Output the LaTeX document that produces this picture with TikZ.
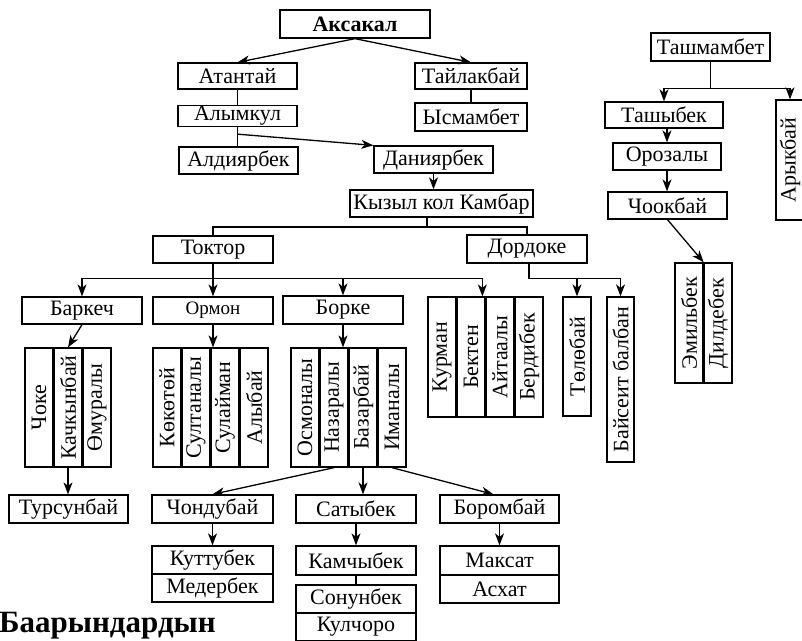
\documentclass[tikz,border=0pt]{standalone}
\usepackage{fontspec}
\setmainfont{Liberation Serif}
\usetikzlibrary{arrows.meta,calc}
\begin{document}
\begin{tikzpicture}[x=1pt,y=-1pt]
\tikzset{
 bx/.style={draw, line width=1.3pt, inner sep=0pt, font=\fontsize{22}{24}\selectfont},
 col/.style={bx, minimum width=28pt},
 arr/.style={line width=1.3pt, -{Stealth[length=12pt,width=9pt,inset=3.5pt]}},
 ln/.style={line width=1.3pt},
}
\useasboundingbox (0,0) rectangle (802,640);
% top tree
\node[bx, minimum width=150pt, minimum height=28pt, font=\fontsize{22}{24}\selectfont\bfseries] (aks) at (355,24) {Аксакал};
\node[bx, minimum width=119pt, minimum height=26pt] (atan) at (237.5,76) {Атантай};
\node[bx, minimum width=112pt, minimum height=26pt] (tail) at (471,76) {Тайлакбай};
\node[bx, minimum width=119pt, minimum height=21pt] (alym) at (237.5,116) {Алымкул};
\node[bx, minimum width=112pt, minimum height=28pt] (ysm) at (471,117) {Ысмамбет};
\node[bx, minimum width=119pt, minimum height=27pt] (ald) at (238.5,160.5) {Алдиярбек};
\node[bx, minimum width=119pt, minimum height=27pt] (dan) at (433.5,159.5) {Даниярбек};
\node[bx, minimum width=183pt, minimum height=27pt] (kyz) at (441.5,203.5) {Кызыл кол Камбар};
\node[bx, minimum width=120pt, minimum height=27pt] (tok) at (213,249.5) {Токтор};
\node[bx, minimum width=120pt, minimum height=28pt] (dor) at (527,249) {Дордоке};
\node[bx, minimum width=120pt, minimum height=27pt] (bark) at (82,310.5) {Баркеч};
\node[bx, minimum width=120pt, minimum height=27pt, font=\fontsize{19}{21}\selectfont] (orm) at (213,310.5) {Ормон};
\node[bx, minimum width=120pt, minimum height=28pt] (bork) at (343,310) {Борке};
% column groups
\node[col, minimum height=119pt] (chok) at (39,407.5) {\rotatebox{90}{Чоке}};
\node[col, minimum height=119pt] (kach) at (68,407.5) {\rotatebox{90}{Качкынбай}};
\node[col, minimum height=119pt] (omur) at (97,407.5) {\rotatebox{90}{Өмуралы}};
\node[col, minimum height=119pt] (kok) at (167,407.5) {\rotatebox{90}{Көкөтөй}};
\node[col, minimum height=119pt] (sult) at (196,407.5) {\rotatebox{90}{Султаналы}};
\node[col, minimum height=119pt] (sul) at (225,407.5) {\rotatebox{90}{Сулайман}};
\node[col, minimum height=119pt] (alyb) at (254,407.5) {\rotatebox{90}{Алыбай}};
\node[col, minimum height=119pt] (osm) at (305,407.5) {\rotatebox{90}{Осмоналы}};
\node[col, minimum height=119pt] (naz) at (334,407.5) {\rotatebox{90}{Назаралы}};
\node[col, minimum height=119pt] (baz) at (363,407.5) {\rotatebox{90}{Базарбай}};
\node[col, minimum height=119pt] (ima) at (392,407.5) {\rotatebox{90}{Иманалы}};
\node[col, minimum height=120pt] (kur) at (442,357) {\rotatebox{90}{Курман}};
\node[col, minimum height=120pt] (bek) at (471,357) {\rotatebox{90}{Бектен}};
\node[col, minimum height=120pt] (ait) at (500,357) {\rotatebox{90}{Айтаалы}};
\node[col, minimum height=120pt] (berd) at (529,357) {\rotatebox{90}{Бердибек}};
\node[col, minimum height=119pt] (tol) at (577,356.5) {\rotatebox{90}{Төлөбай}};
\node[col, minimum width=27pt, minimum height=165pt] (bai) at (620.5,379.5) {\rotatebox{90}{Байсеит балбан}};
% right tree
\node[bx, minimum width=119pt, minimum height=28pt] (tash) at (710.5,47) {Ташмамбет};
\node[bx, minimum width=118pt, minimum height=26pt] (tashy) at (664,115) {Ташыбек};
\node[col, minimum height=120pt] (aryk) at (790,160) {\rotatebox{90}{Арыкбай}};
\node[bx, minimum width=108pt, minimum height=27pt] (oroz) at (667,156.5) {Орозалы};
\node[bx, minimum width=119pt, minimum height=27pt] (chook) at (667.5,205.5) {Чоокбай};
\node[col, minimum height=120pt] (emil) at (689,323) {\rotatebox{90}{Эмильбек}};
\node[col, minimum height=120pt] (dild) at (718,323) {\rotatebox{90}{Дилдебек}};
% bottom rows
\node[bx, minimum width=119pt, minimum height=28pt] (turs) at (68.5,509) {Турсунбай};
\node[bx, minimum width=121pt, minimum height=28pt] (chon) at (212.5,509) {Чондубай};
\node[bx, minimum width=120pt, minimum height=28pt] (sat) at (356,509) {Сатыбек};
\node[bx, minimum width=119pt, minimum height=28pt] (bor) at (499.5,509) {Боромбай};
\node[bx, minimum width=121pt, minimum height=28pt] (kut) at (212.5,560) {Куттубек};
\node[bx, minimum width=121pt, minimum height=28pt] (med) at (212.5,588) {Медербек};
\node[bx, minimum width=120pt, minimum height=29pt] (kam) at (356,560.5) {Камчыбек};
\node[bx, minimum width=120pt, minimum height=28pt] (son) at (356,599) {Сонунбек};
\node[bx, minimum width=120pt, minimum height=28pt] (kul) at (356,627) {Кулчоро};
\node[bx, minimum width=119pt, minimum height=29pt] (mak) at (499.5,560.5) {Максат};
\node[bx, minimum width=119pt, minimum height=28pt] (ash) at (499.5,589) {Асхат};
\node[anchor=base west, inner sep=0pt, font=\fontsize{31}{33}\selectfont\bfseries] (title) at (-1,632) {Баарындардын};
% connectors
\draw[arr] (aks.south) -- (atan.north);
\draw[arr] (aks.south) -- (tail.north);
\draw[ln] (atan.south) -- (alym.north);
\draw[ln] (tail.south) -- (ysm.north);
\draw[ln] (alym.south) -- (alym.south |- ald.north);
\coordinate (a1) at ($(alym.south)+(0,7)$);
\draw[arr] (a1) -- (dan.north west);
\draw[arr] (dan.south) -- (dan.south |- kyz.north);
\coordinate (k1) at (427,227);
\draw[ln] (k1 |- kyz.south) -- (k1);
\draw[ln] (tok.north) |- (k1) -| (dor.north);
\coordinate (t1) at ($(tok.south)+(0,15)$);
\draw[ln] (tok.south) -- (t1);
\draw[arr] (t1) -| (bark.north);
\draw[arr] (t1) -- (orm.north);
\draw[arr] (t1) -| (bork.north);
\draw[arr] (t1) -| ([xshift=-3pt]ait.north west);
\draw[arr] (bark.south) -- (kach.north);
\draw[arr] (orm.south) -- (orm.south |- sult.north);
\draw[arr] (bork.south) -- (bork.south |- naz.north);
\coordinate (d1) at ($(dor.south)+(2,15)$);
\draw[ln] (d1 |- dor.south) -- (d1);
\draw[arr] (d1) -| (tol.north);
\draw[arr] (d1) -| (bai.north);
\coordinate (m1) at ($(tash.south)+(0,27)$);
\draw[ln] (tash.south) -- (m1);
\draw[arr] (m1) -| (tashy.north);
\draw[arr] (m1) -| (aryk.north);
\draw[arr] (oroz.north |- tashy.south) -- (oroz.north);
\draw[arr] (oroz.south) -- (oroz.south |- chook.north);
\draw[arr] (chook.south) -- (emil.north east);
\draw[arr] (kach.south) -- (kach.south |- turs.north);
\draw[arr] (naz.south) -- (chon.north);
\draw[arr] (baz.south) -- (baz.south |- sat.north);
\draw[arr] (ima.south) -- ([xshift=-6pt]bor.north);
\draw[arr] (chon.south) -- (kut.north);
\draw[arr] (sat.south) -- (kam.north);
\draw[ln] (kam.south) -- (son.north);
\draw[arr] (bor.south) -- (mak.north);
\end{tikzpicture}
\end{document}
